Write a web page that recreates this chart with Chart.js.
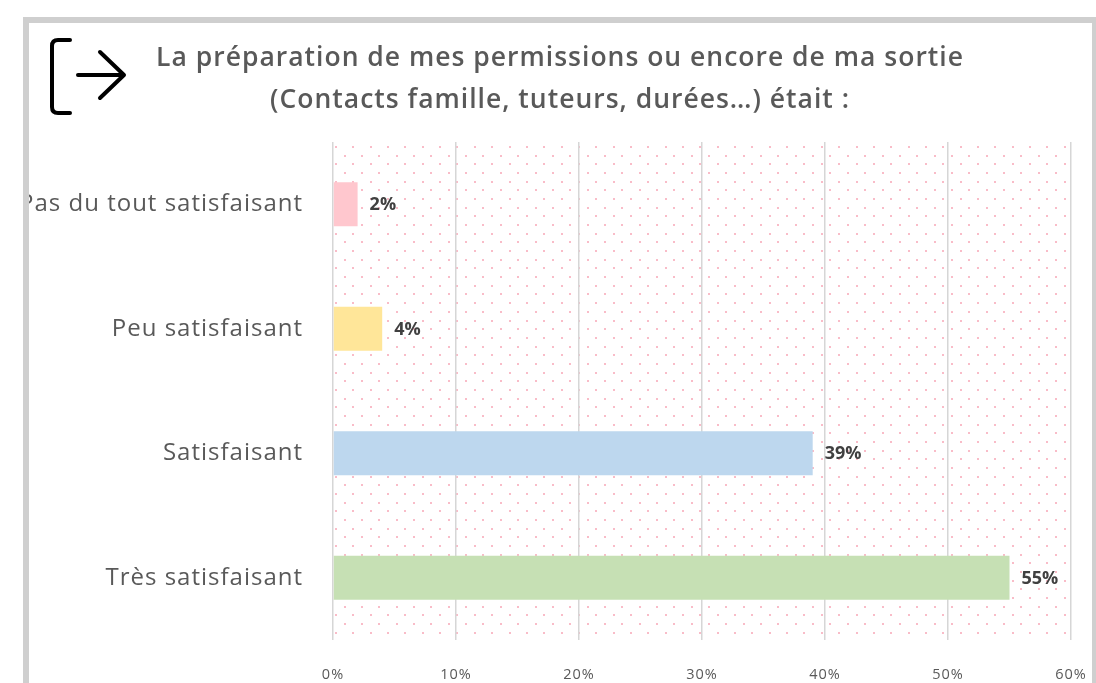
<!DOCTYPE html>
<html>
<head>
<meta charset="utf-8">
<script src="https://cdn.jsdelivr.net/npm/chart.js@4"></script>
<style>
  html, body { margin: 0; padding: 0; background: #fff; width: 1096px; height: 683px; overflow: hidden; }
  #frame {
    position: absolute; left: 23px; top: 17px;
    width: 1063px; height: 700px;
    border: 6px solid #cfcfcf; border-bottom: none;
    overflow: hidden; background: #fff;
  }
  #wrap { position: absolute; left: -29px; top: -23px; width: 1096px; height: 683px; }
  #icon { position: absolute; left: 0; top: 0; }
</style>
</head>
<body>
<div id="frame">
  <div id="wrap"><canvas id="myChart" width="1096" height="683"></canvas></div>
</div>
<svg id="icon" width="140" height="130">
  <path d="M70 40 H58 Q52 40 52 46 V107 Q52 113 58 113 H70" fill="none" stroke="#000" stroke-width="4" stroke-linecap="round"/>
  <path d="M78 75 H123 M100 52 L124 75 L100 98" fill="none" stroke="#000" stroke-width="4" stroke-linecap="round" stroke-linejoin="round"/>
</svg>
<script>
const ctx = document.getElementById("myChart").getContext("2d");

// data
const labels = [
    'Pas du tout satisfaisant',
    'Peu satisfaisant',
    'Satisfaisant',
    'Très satisfaisant',
];
const values = [2, 4, 39, 55];
const barColors = ['#FFC7CE', '#FFE699', '#BDD7EE', '#C6E0B4'];
const xTicks = [0, 10, 20, 30, 40, 50, 60];
const titleLines = [
    'La préparation de mes permissions ou encore de ma sortie',
    '(Contacts famille, tuteurs, durées…) était :',
];

// pink dotted background in the plot area (+ wider letter spacing for the text)
const dotsBg = {
    id: 'dotsBg',
    beforeDraw(chart) {
        const a = chart.chartArea;
        const c = chart.ctx;
        const step = 17.35;
        c.save();
        c.fillStyle = '#f9bcc8';
        let row = 0;
        for (let y = a.top + 5; y < a.bottom; y += step / 2) {
            const off = (row % 2) ? step / 2 : 0;
            for (let x = a.left + 3 + off; x < a.right - 2; x += step) {
                c.fillRect(Math.round(x) - 1, Math.round(y) - 1, 2, 2);
            }
            row++;
        }
        c.restore();
        c.letterSpacing = '1px';
    },
    beforeDatasetsDraw(chart) {
        chart.ctx.letterSpacing = '0px';
    },
};

// value labels at the end of each bar
const barLabels = {
    id: 'barLabels',
    afterDatasetsDraw(chart) {
        const c = chart.ctx;
        const meta = chart.getDatasetMeta(0);
        c.save();
        c.font = 'bold 18px "Open Sans"';
        c.fillStyle = '#404040';
        c.textBaseline = 'middle';
        meta.data.forEach((bar, i) => {
            c.fillText(values[i] + '%', bar.x + 12, bar.y + 1);
        });
        c.restore();
    },
};

const data = {
    labels,
    datasets: [
        {
            data: values,
            backgroundColor: barColors,
            borderWidth: 0,
            categoryPercentage: 1,
            barPercentage: 0.355,
        },
    ],
};

const config = {
    type: "bar",
    data: data,
    plugins: [dotsBg, barLabels],
    options: {
        indexAxis: 'y',
        responsive: false,
        animation: false,
        layout: { padding: { left: 24, right: 0, top: 0, bottom: 0 } },
        plugins: {
            legend: { display: false },
            tooltip: { enabled: false },
            title: {
                display: true,
                text: titleLines,
                color: '#595959',
                font: { family: 'Open Sans', size: 26.5, weight: '600', lineHeight: 1.6 },
                padding: { top: 37, bottom: 20.2 },
            },
        },
        scales: {
            x: {
                min: 0,
                max: 60,
                afterBuildTicks: (scale) => {
                    scale.ticks = xTicks.map(v => ({ value: v }));
                },
                afterFit: (scale) => {
                    scale.height = 43;
                    scale.paddingLeft = 0;
                    scale.paddingRight = 25;
                },
                grid: { color: '#d6d6d6', lineWidth: 1.5, drawTicks: false },
                border: { display: false },
                ticks: {
                    padding: 26,
                    color: '#595959',
                    font: { family: 'Open Sans', size: 14.5 },
                    callback: function(value) {
                        return value + "%";
                    },
                },
            },
            y: {
                afterFit: (scale) => {
                    scale.width = 309;
                    scale.paddingTop = 0;
                    scale.paddingBottom = 0;
                },
                grid: { display: false, drawTicks: false },
                border: { display: false },
                ticks: {
                    padding: 30,
                    color: '#595959',
                    font: { family: 'Open Sans', size: 24 },
                },
            },
        },
    },
};

const myChart = new Chart(ctx, config);
</script>
</body>
</html>
